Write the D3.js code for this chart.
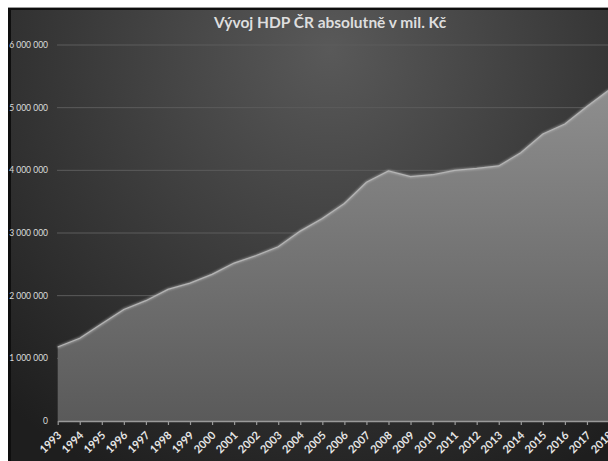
<!DOCTYPE html>
<html>
<head>
<meta charset="utf-8">
<script src="https://cdn.jsdelivr.net/npm/d3@7"></script>
<style>
  body { margin: 0; background: #fff; }
  svg { display: block; }
</style>
</head>
<body>
<div id="chart"></div>
<script>
// HDP CR v mil. Kc
var years = [1993, 1994, 1995, 1996, 1997, 1998, 1999, 2000, 2001, 2002, 2003, 2004, 2005,
             2006, 2007, 2008, 2009, 2010, 2011, 2012, 2013, 2014, 2015, 2016, 2017, 2018];
var hdp = [1180000, 1320000, 1550000, 1780000, 1920000, 2100000, 2200000, 2340000, 2520000,
           2640000, 2780000, 3030000, 3230000, 3470000, 3810000, 3990000, 3900000, 3930000,
           4000000, 4030000, 4070000, 4280000, 4580000, 4740000, 5020000, 5280000];
var yTicks = [0, 1000000, 2000000, 3000000, 4000000, 5000000, 6000000];

var w = 608;
var h = 461;

var svg = d3.select("#chart")
  .append("svg")
  .attr("width", w)
  .attr("height", h);

var defs = svg.append("defs");

var bg = defs.append("radialGradient")
  .attr("id", "bg")
  .attr("gradientUnits", "userSpaceOnUse")
  .attr("cx", 330).attr("cy", 50).attr("r", 480);
bg.append("stop").attr("offset", "0%").attr("stop-color", "#595959");
bg.append("stop").attr("offset", "55%").attr("stop-color", "#383838");
bg.append("stop").attr("offset", "100%").attr("stop-color", "#1e1e1e");

var fill = defs.append("linearGradient")
  .attr("id", "fill")
  .attr("gradientUnits", "userSpaceOnUse")
  .attr("x1", 0).attr("y1", 45).attr("x2", 0).attr("y2", 421);
fill.append("stop").attr("offset", "0%").attr("stop-color", "#959595");
fill.append("stop").attr("offset", "100%").attr("stop-color", "#5a5a5a");

var glow = defs.append("filter").attr("id", "glow")
  .attr("x", "-5%").attr("y", "-5%").attr("width", "110%").attr("height", "110%");
glow.append("feGaussianBlur").attr("stdDeviation", 1.2);

// frame
svg.append("rect").attr("x", 8).attr("y", 7).attr("width", w - 8).attr("height", h - 7)
  .attr("fill", "#0e0e0e");
svg.append("line").attr("x1", 8).attr("x2", w).attr("y1", 7.5).attr("y2", 7.5)
  .attr("stroke", "#9a9a9a").attr("stroke-width", 1);
svg.append("rect").attr("x", 11).attr("y", 10).attr("width", w - 11).attr("height", h - 10)
  .attr("fill", "url(#bg)");

var x = d3.scaleLinear().domain([1993, 2018]).range([57.7, 609]);
var y = d3.scaleLinear().domain([0, 6000000]).range([421, 45]);

// gridlines
svg.append("g")
  .selectAll("line")
  .data(yTicks.filter(function(d) { return d > 0; }))
  .enter()
  .append("line")
  .attr("x1", 57).attr("x2", w)
  .attr("y1", function(d) { return y(d); })
  .attr("y2", function(d) { return y(d); })
  .attr("stroke", "#5c5c5c")
  .attr("stroke-width", 1);

var area = d3.area()
  .x(function(d, i) { return x(years[i]); })
  .y0(y(0))
  .y1(function(d) { return y(d); });

var line = d3.line()
  .x(function(d, i) { return x(years[i]); })
  .y(function(d) { return y(d); });

svg.append("path")
  .datum(hdp)
  .attr("d", area)
  .attr("fill", "url(#fill)");

svg.append("path")
  .datum(hdp)
  .attr("d", line)
  .attr("fill", "none")
  .attr("stroke", "#bdbdbd")
  .attr("stroke-width", 2.5)
  .attr("opacity", 0.6)
  .attr("filter", "url(#glow)");

svg.append("path")
  .datum(hdp)
  .attr("d", line)
  .attr("fill", "none")
  .attr("stroke", "#b4b4b4")
  .attr("stroke-width", 1.2);

// y axis labels
var fmt = function(d) { return d3.format(",")(d).replace(/,/g, " "); };
svg.append("g")
  .selectAll("text")
  .data(yTicks)
  .enter()
  .append("text")
  .attr("x", 48)
  .attr("y", function(d) { return y(d) + 3; })
  .attr("text-anchor", "end")
  .attr("font-family", "Lato, sans-serif")
  .attr("font-size", "8.5px")
  .attr("fill", "#dcdcdc")
  .text(fmt);

// x axis
var xAxis = d3.axisBottom(x)
  .tickValues(years)
  .tickFormat(d3.format("d"))
  .tickSize(4)
  .tickSizeOuter(0);

var gx = svg.append("g")
  .attr("transform", "translate(0," + y(0) + ")")
  .call(xAxis);

gx.select(".domain").attr("stroke", "#9a9a9a").attr("stroke-width", 1.3);
gx.selectAll(".tick line").attr("stroke", "#9a9a9a").attr("stroke-width", 1.2);
gx.selectAll(".tick text")
  .attr("font-family", "Lato, sans-serif")
  .attr("font-size", "11px")
  .attr("font-weight", "bold")
  .attr("fill", "#e6e6e6")
  .attr("text-anchor", "end")
  .attr("dy", null)
  .attr("y", 0)
  .attr("transform", "translate(4,15) rotate(-45)");

// title
svg.append("text")
  .attr("x", 330)
  .attr("y", 28)
  .attr("text-anchor", "middle")
  .attr("font-family", "Lato, sans-serif")
  .attr("font-size", "15.5px")
  .attr("font-weight", "bold")
  .attr("fill", "#dedede")
  .text("Vývoj HDP ČR absolutně v mil. Kč");
</script>
</body>
</html>
